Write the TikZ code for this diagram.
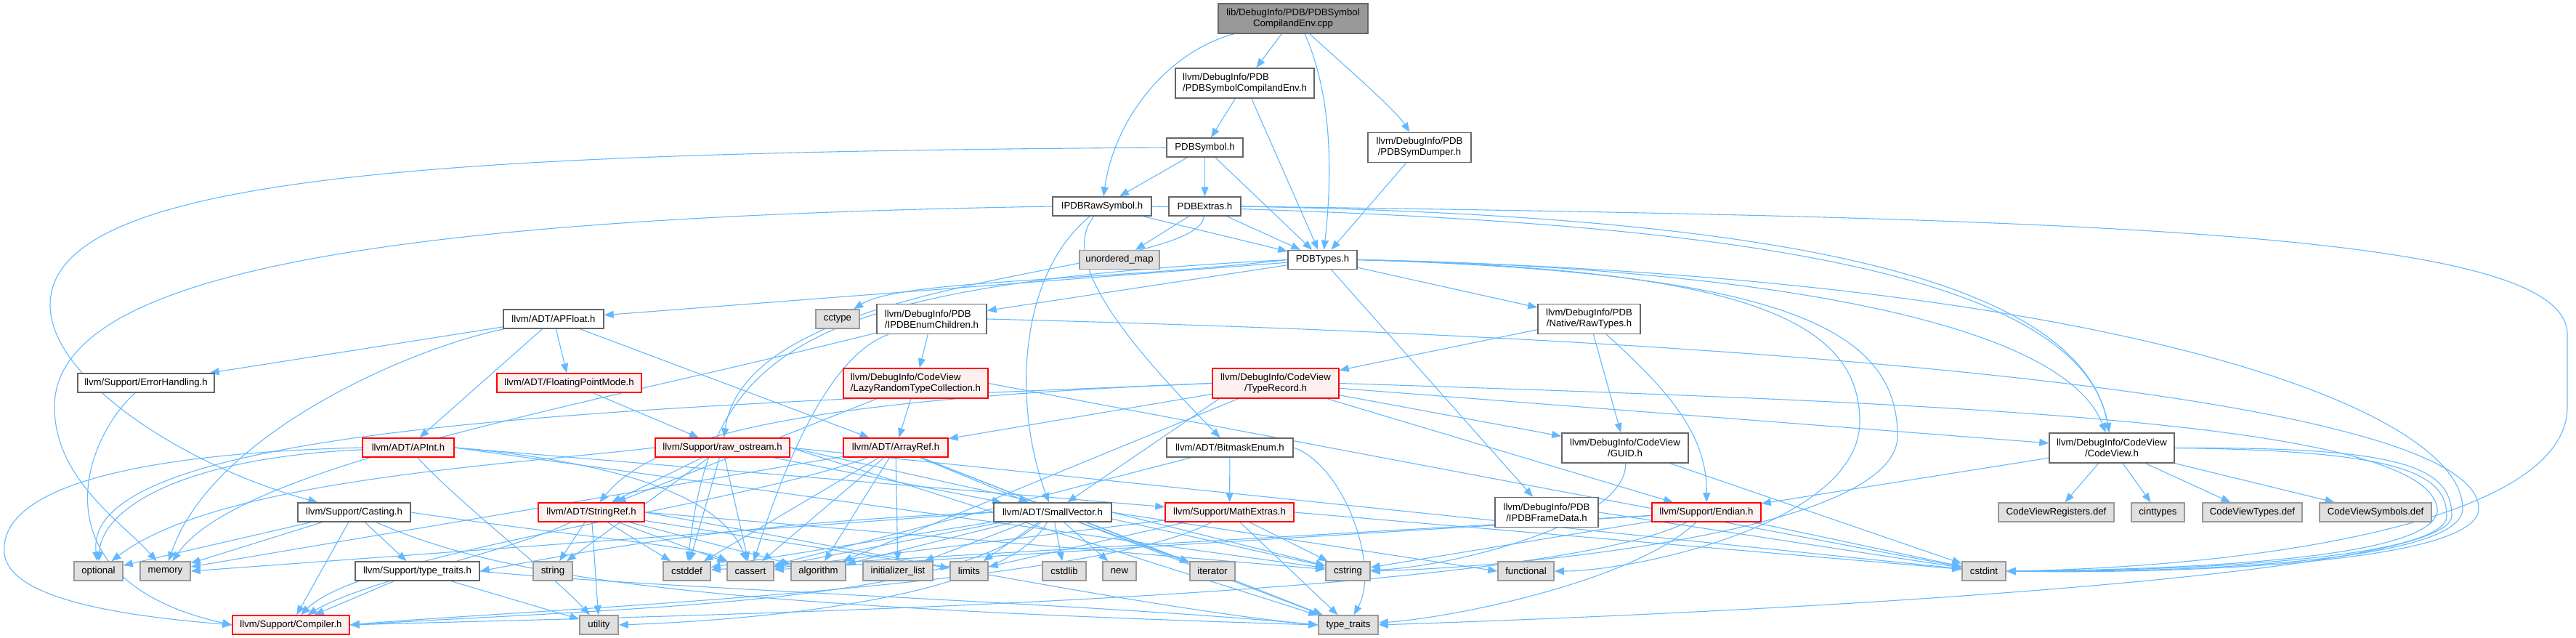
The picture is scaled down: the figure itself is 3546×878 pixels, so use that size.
\documentclass[tikz,border=0pt]{standalone}
\usepackage{fontspec}
\setmainfont{Liberation Sans}
\usetikzlibrary{arrows.meta,calc,backgrounds}
\definecolor{edgec}{HTML}{63B8FF}
\definecolor{redb}{HTML}{FF0000}
\definecolor{redf}{HTML}{FFF0F0}
\definecolor{greyf}{HTML}{E0E0E0}
\definecolor{greyb}{HTML}{999999}
\definecolor{darkb}{HTML}{666666}
\definecolor{rootf}{HTML}{999999}
\tikzset{
  base/.style={draw, line width=0.75pt, inner sep=0pt, font=\fontsize{6.6}{7.5}\selectfont},
  wbox/.style={base, draw=darkb, fill=white, align=center},
  wboxl/.style={base, draw=darkb, fill=white, align=left},
  rbox/.style={base, draw=redb, fill=redf, align=center},
  rboxl/.style={base, draw=redb, fill=redf, align=left},
  gbox/.style={base, draw=greyb, fill=greyf, align=center},
  rootbox/.style={base, draw=darkb, fill=rootf, align=center},
  ln/.style={draw=edgec, line width=0.55pt, -{Triangle[length=6.5pt,width=5pt]}},
}
\newcommand\mknode[7]{\node[#1, minimum width=#5*0.5pt, minimum height=#6*0.5pt] (#2) at (#3,#4) {#7};}
\begin{document}
\begin{tikzpicture}[x=0.5pt,y=-0.5pt]
\useasboundingbox (0,0) rectangle (3546,878);
% ---------------- nodes
\mknode{rootbox}{root}{1780}{25.5}{206}{41}{lib/DebugInfo/PDB/PDBSymbol\\CompilandEnv.cpp}
\mknode{wboxl}{csenv}{1713.5}{114.5}{191}{41}{llvm/DebugInfo/PDB\\/PDBSymbolCompilandEnv.h}
\mknode{wbox}{sym}{1658.5}{203}{105}{26}{PDBSymbol.h}
\mknode{wbox}{dump}{1954}{203}{142}{41}{llvm/DebugInfo/PDB\\/PDBSymDumper.h}
\mknode{wbox}{raw}{1517}{284}{136}{26}{IPDBRawSymbol.h}
\mknode{wbox}{extras}{1658.5}{284}{99}{26}{PDBExtras.h}
\mknode{gbox}{umap}{1541}{357.5}{110}{26}{unordered\_map}
\mknode{wbox}{types}{1820.5}{357.5}{95}{26}{PDBTypes.h}
\mknode{wbox}{apfloat}{762}{439}{138}{26}{llvm/ADT/APFloat.h}
\mknode{gbox}{cctype}{1153}{439}{60}{26}{cctype}
\mknode{wboxl}{enumch}{1282.5}{439}{151}{41}{llvm/DebugInfo/PDB\\/IPDBEnumChildren.h}
\mknode{wbox}{rawtypes}{2187.5}{439}{141}{41}{llvm/DebugInfo/PDB\\/Native/RawTypes.h}
\mknode{wbox}{errh}{201}{527}{188}{26}{llvm/Support/ErrorHandling.h}
\mknode{rbox}{fpmode}{783.5}{527}{199}{26}{llvm/ADT/FloatingPointMode.h}
\mknode{rboxl}{lazy}{1260.5}{527.5}{199}{41}{llvm/DebugInfo/CodeView\\/LazyRandomTypeCollection.h}
\mknode{rbox}{typerec}{1756}{527.5}{174}{41}{llvm/DebugInfo/CodeView\\/TypeRecord.h}
\mknode{wbox}{guid}{2237}{616.5}{174}{41}{llvm/DebugInfo/CodeView\\/GUID.h}
\mknode{wbox}{codeview}{2907}{616.5}{172}{41}{llvm/DebugInfo/CodeView\\/CodeView.h}
\mknode{rbox}{apint}{562}{616}{126}{26}{llvm/ADT/APInt.h}
\mknode{rbox}{rawos}{994.5}{616}{185}{26}{llvm/Support/raw\_ostream.h}
\mknode{rbox}{arrayref}{1233}{616}{144}{26}{llvm/ADT/ArrayRef.h}
\mknode{wbox}{bitmask}{1693}{616}{174}{26}{llvm/ADT/BitmaskEnum.h}
\mknode{wbox}{casting}{487.5}{705}{155}{26}{llvm/Support/Casting.h}
\mknode{rbox}{stringref}{814}{705}{146}{26}{llvm/ADT/StringRef.h}
\mknode{wbox}{smallvec}{1449}{705}{162}{26}{llvm/ADT/SmallVector.h}
\mknode{rbox}{math}{1692.5}{705}{177}{26}{llvm/Support/MathExtras.h}
\mknode{wbox}{framedata}{2129}{705}{142}{41}{llvm/DebugInfo/PDB\\/IPDBFrameData.h}
\mknode{rbox}{endian}{2349}{705}{150}{26}{llvm/Support/Endian.h}
\mknode{gbox}{cvregs}{2830.5}{705}{159}{26}{CodeViewRegisters.def}
\mknode{gbox}{cinttypes}{2970.5}{705}{73}{26}{cinttypes}
\mknode{gbox}{cvtypes}{3100.5}{705}{137}{26}{CodeViewTypes.def}
\mknode{gbox}{cvsyms}{3270}{705}{154}{26}{CodeViewSymbols.def}
\mknode{gbox}{optional}{135.5}{786}{67}{26}{optional}
\mknode{gbox}{memory}{227.5}{786}{69}{26}{memory}
\mknode{wbox}{ttraitsh}{574.5}{786}{171}{26}{llvm/Support/type\_traits.h}
\mknode{gbox}{string}{761}{786}{54}{26}{string}
\mknode{gbox}{cstddef}{945.5}{786}{65}{26}{cstddef}
\mknode{gbox}{cassert}{1033}{786}{64}{26}{cassert}
\mknode{gbox}{algorithm}{1126.5}{786}{75}{26}{algorithm}
\mknode{gbox}{initlist}{1236}{786}{96}{26}{initializer\_list}
\mknode{gbox}{limits}{1334}{786}{52}{26}{limits}
\mknode{gbox}{cstdlib}{1465}{786}{60}{26}{cstdlib}
\mknode{gbox}{new}{1541}{786}{46}{26}{new}
\mknode{gbox}{iterator}{1669}{786}{62}{26}{iterator}
\mknode{gbox}{cstring}{1855.5}{786}{61}{26}{cstring}
\mknode{gbox}{functional}{2100.5}{786}{77}{26}{functional}
\mknode{gbox}{cstdint}{2731}{786}{60}{26}{cstdint}
\mknode{rbox}{compiler}{400.5}{860}{161}{26}{llvm/Support/Compiler.h}
\mknode{gbox}{utility}{824.5}{860}{53}{26}{utility}
\mknode{gbox}{ttraits}{1856}{860}{82}{26}{type\_traits}
% ---------------- edges
\begin{pgfonlayer}{background}
% root
\draw[ln] (root) .. controls (1610,70) and (1535,160) .. (raw);
\draw[ln] (root) -- (csenv);
\draw[ln] ([xshift=8pt]root.south) .. controls (1838,140) and (1832,260) .. ([xshift=1pt]types.north);
\draw[ln] (root) .. controls (1850,90) and (1920,150) .. (dump);
% csenv
\draw[ln] (csenv) -- (sym);
\draw[ln] (csenv) -- (types);
% sym
\draw[ln] (sym) -- (raw);
\draw[ln] (sym) -- (extras);
\draw[ln] (sym) -- (types);
\draw[ln] (sym.west) .. controls (600,210) and (69,240) .. (69,420) .. controls (69,520) and (250,640) .. (casting);
% dump
\draw[ln] (dump) -- (types);
% raw
\draw[ln] (raw) -- (types);
\draw[ln] (raw) .. controls (1455,360) and (1560,480) .. (bitmask);
\draw[ln] (raw) .. controls (1400,380) and (1395,560) .. (smallvec);
\draw[ln] (raw.east) .. controls (2200,300) and (2860,340) .. (codeview);
\draw[ln] (raw.west) .. controls (500,300) and (75,380) .. (75,560) .. controls (75,660) and (170,720) .. (memory);
% extras
\draw[ln] (extras.east) .. controls (2300,295) and (2860,350) .. (codeview);
\draw[ln] (extras) -- (types);
\draw[ln] (extras) .. controls (1650,380) and (1030,370) .. (rawos);
\draw[ln] (extras.east) .. controls (2900,300) and (3534,320) .. (3534,460) -- (3534,560) .. controls (3534,720) and (3100,780) .. (cstdint.east);
\draw[ln] (extras) -- (umap);
% types
\draw[ln] (types) -- (apfloat);
\draw[ln] (types.east) .. controls (2300,365) and (2830,420) .. (codeview);
\draw[ln] (types) -- (enumch);
\draw[ln] (types) -- (framedata);
\draw[ln] (types) -- (rawtypes);
\draw[ln] (types.west) .. controls (1500,388) and (1240,385) .. (cctype);
\draw[ln] (types.west) .. controls (1100,392) and (980,480) .. (cstddef);
\draw[ln] (types.east) .. controls (2900,380) and (3390,560) .. (3390,700) .. controls (3390,775) and (3000,788) .. (cstdint.east);
\draw[ln] (types.east) .. controls (2450,375) and (2612,450) .. (2612,600) .. controls (2612,730) and (2100,780) .. (cstring.east);
\draw[ln] (types.east) .. controls (2400,370) and (2560,440) .. (2560,580) .. controls (2560,720) and (2250,786) .. (functional.east);
% apfloat
\draw[ln] (apfloat) -- (apint);
\draw[ln] (apfloat) -- (arrayref);
\draw[ln] (apfloat) -- (fpmode);
\draw[ln] (apfloat) -- (errh);
\draw[ln] (apfloat) .. controls (560,480) and (290,600) .. (memory);
% errh, fpmode
\draw[ln] (errh) .. controls (110,610) and (50,800) .. (compiler.west);
\draw[ln] (fpmode) -- (rawos);
% enumch
\draw[ln] (enumch) -- (lazy);
\draw[ln] (enumch) .. controls (1140,490) and (1080,640) .. (cassert);
\draw[ln] (enumch) .. controls (800,560) and (330,640) .. (memory);
\draw[ln] (enumch.east) .. controls (2600,470) and (3412,560) .. (3412,700) .. controls (3412,775) and (3000,790) .. (cstdint.east);
% lazy
\draw[ln] (lazy) -- (arrayref);
\draw[ln] (lazy) -- (stringref);
\draw[ln] (lazy.east) -- (cstdint);
% rawtypes
\draw[ln] (rawtypes) -- (typerec);
\draw[ln] (rawtypes) -- (guid);
\draw[ln] (rawtypes) .. controls (2300,540) and (2350,600) .. (endian);
% typerec
\draw[ln] (typerec) -- (arrayref);
\draw[ln] ([xshift=5pt]typerec.south west) -- (smallvec);
\draw[ln] (typerec.west) .. controls (1100,550) and (900,600) .. (stringref);
\draw[ln] (typerec) -- (codeview);
\draw[ln] (typerec) -- (guid);
\draw[ln] (typerec) -- (endian);
\draw[ln] (typerec) -- (algorithm);
\draw[ln] (typerec.east) .. controls (2700,555) and (3340,580) .. (3355,700) .. controls (3360,770) and (3000,784) .. (cstdint.east);
\draw[ln] (typerec.west) .. controls (900,560) and (110,580) .. (optional);
% guid
\draw[ln] (guid) -- (cstdint);
\draw[ln] (guid) .. controls (2240,720) and (2000,780) .. (cstring);
% codeview
\draw[ln] (codeview) -- (cvregs);
\draw[ln] (codeview) -- (cinttypes);
\draw[ln] (codeview) -- (cvtypes);
\draw[ln] (codeview) -- (cvsyms);
\draw[ln] (codeview) -- (endian);
\draw[ln] (codeview.east) .. controls (3300,615) and (3375,640) .. (3375,710) .. controls (3375,790) and (2500,840) .. (ttraits.east);
\draw[ln] (codeview.east) .. controls (3300,620) and (3368,650) .. (3368,710) .. controls (3368,770) and (3000,786) .. (cstdint.east);
% apint
\draw[ln] (apint.west) .. controls (150,625) and (0,680) .. (6,760) .. controls (10,830) and (200,850) .. (compiler.west);
\draw[ln] (apint.east) -- (math);
\draw[ln] (apint.east) .. controls (900,640) and (1000,700) .. (cassert);
\draw[ln] (apint.east) -- (cstring);
\draw[ln] (apint) .. controls (250,630) and (140,700) .. (optional);
\draw[ln] (apint) .. controls (640,700) and (760,790) .. (utility);
% rawos
\draw[ln] (rawos) -- (smallvec);
\draw[ln] (rawos) -- (stringref);
\draw[ln] (rawos) -- (cassert);
\draw[ln] (rawos) -- (cstddef);
\draw[ln] (rawos.east) -- (cstdint);
\draw[ln] (rawos.east) -- (cstring);
\draw[ln] (rawos.west) .. controls (700,640) and (300,660) .. (optional);
\draw[ln] (rawos) -- (string);
\draw[ln] (rawos.east) -- (ttraits);
% arrayref
\draw[ln] (arrayref) -- (smallvec);
\draw[ln] (arrayref) .. controls (1000,700) and (500,760) .. (compiler);
\draw[ln] (arrayref) -- (algorithm);
\draw[ln] (arrayref) -- (cassert);
\draw[ln] (arrayref) -- (cstddef);
\draw[ln] (arrayref) -- (initlist);
\draw[ln] (arrayref) -- (iterator);
\draw[ln] (arrayref) -- (memory);
\draw[ln] (arrayref) -- (ttraits);
% bitmask
\draw[ln] (bitmask) -- (math);
\draw[ln] (bitmask) -- (cassert);
\draw[ln] (bitmask.east) .. controls (1850,640) and (1900,780) .. (ttraits);
% casting
\draw[ln] (casting) -- (compiler);
\draw[ln] (casting) -- (ttraitsh);
\draw[ln] (casting.east) .. controls (800,740) and (950,750) .. (cassert);
\draw[ln] (casting) -- (memory);
\draw[ln] (casting) -- (optional);
\draw[ln] (casting) .. controls (700,800) and (1000,835) .. (ttraits.west);
% stringref
\draw[ln] (stringref) .. controls (700,760) and (500,800) .. (compiler);
\draw[ln] (stringref) -- (algorithm);
\draw[ln] (stringref) -- (cassert);
\draw[ln] (stringref) -- (cstddef);
\draw[ln] (stringref.east) -- (cstring);
\draw[ln] (stringref) -- (limits);
\draw[ln] (stringref) -- (string);
\draw[ln] (stringref.east) .. controls (1200,760) and (1600,840) .. (ttraits.west);
\draw[ln] (stringref) -- (utility);
% smallvec
\draw[ln] (smallvec) .. controls (1300,830) and (900,835) .. (compiler.east);
\draw[ln] (smallvec.west) .. controls (1000,720) and (800,760) .. (ttraitsh.east);
\draw[ln] (smallvec) -- (algorithm);
\draw[ln] (smallvec) -- (cassert);
\draw[ln] (smallvec) -- (cstddef);
\draw[ln] (smallvec) -- (cstdlib);
\draw[ln] (smallvec.east) -- (cstring);
\draw[ln] (smallvec.east) -- (functional.west);
\draw[ln] (smallvec) -- (initlist);
\draw[ln] (smallvec) -- (iterator);
\draw[ln] (smallvec) -- (limits);
\draw[ln] (smallvec.west) -- (memory.east);
\draw[ln] (smallvec) -- (new);
\draw[ln] (smallvec) -- (ttraits);
\draw[ln] (smallvec) .. controls (1380,830) and (1000,855) .. (utility.east);
% math
\draw[ln] (math) .. controls (1500,810) and (700,840) .. (compiler.east);
\draw[ln] (math) -- (cassert);
\draw[ln] (math.east) -- (cstdint);
\draw[ln] (math) -- (cstring);
\draw[ln] (math) -- (limits);
\draw[ln] (math) -- (ttraits);
% endian
\draw[ln] (endian) .. controls (2100,830) and (800,850) .. (compiler.east);
\draw[ln] (endian) -- (cassert);
\draw[ln] (endian) -- (cstddef);
\draw[ln] (endian) -- (cstdint);
\draw[ln] (endian) -- (cstring);
\draw[ln] (endian) .. controls (2250,800) and (2000,850) .. (ttraits);
% framedata
\draw[ln] (framedata.east) -- (cstdint);
% type_traits.h
\draw[ln] (ttraitsh) -- (compiler);
\draw[ln] (ttraitsh) -- (utility);
\draw[ln] (ttraitsh.east) .. controls (900,810) and (1500,830) .. (ttraits.west);
\end{pgfonlayer}
\end{tikzpicture}
\end{document}
